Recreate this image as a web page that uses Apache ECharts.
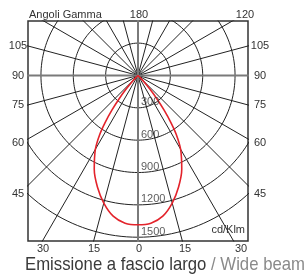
<!DOCTYPE html>
<html>
<head>
<meta charset="utf-8">
<script src="https://cdn.jsdelivr.net/npm/echarts@6/dist/echarts.min.js"></script>
<style>
  html, body { margin: 0; padding: 0; background: #fff; }
  #main { width: 308px; height: 275px; }
</style>
</head>
<body>
<div id="main"></div>
<script>
// gamma angle (deg from nadir) and intensity (cd/klm)
const gammaAngles = [0, 5, 10, 15, 20, 25, 30, 33, 35, 37, 39, 41, 43, 45, 50];
const intensity = [1385, 1375, 1325, 1225, 1100, 960, 790, 650, 530, 400, 280, 170, 80, 20, 0];

// polar grid
const ringValues = [300, 600, 900, 1200, 1500];
const spokeAngles = [0, 15, 30, 45, 60, 75, 90, 105, 120, 135, 150, 165, 180, 195, 210, 225, 240, 255, 270, 285, 300, 315, 330, 345];

// side / bottom tick labels
const sideLabels = ['105', '90', '75', '60', '45'];
const bottomLabels = ['30', '15', '0', '15', '30'];

const titleMain = 'Emissione a fascio largo ';
const titleSub = '/ Wide beam';

const rad = d => d * Math.PI / 180;
const FONT = '"Liberation Sans", Arial, sans-serif';

var chartDom = document.getElementById('main');
var myChart = echarts.init(chartDom, null, { renderer: 'canvas' });

let series = [];

// circles
ringValues.forEach(r => {
    let pts = [];
    for (let a = 0; a <= 360; a += 2) {
        pts.push([r * Math.sin(rad(a)), -r * Math.cos(rad(a))]);
    }
    series.push({
        type: 'line', data: pts, showSymbol: false, silent: true, clip: true,
        lineStyle: { color: '#222', width: 1 }, z: 2
    });
});

// spokes
spokeAngles.forEach(a => {
    const R = 4000;
    const main = a % 90 === 0;
    series.push({
        type: 'line',
        data: [[0, 0], [R * Math.sin(rad(a)), -R * Math.cos(rad(a))]],
        showSymbol: false, silent: true, clip: true,
        lineStyle: { color: main ? '#7a7a7a' : '#222', width: main ? 2 : 1 },
        z: main ? 3 : 2
    });
});

// intensity curve, mirrored both sides
let curve = [];
for (let i = gammaAngles.length - 1; i >= 0; i--) {
    curve.push([-intensity[i] * Math.sin(rad(gammaAngles[i])), -intensity[i] * Math.cos(rad(gammaAngles[i]))]);
}
for (let i = 1; i < gammaAngles.length; i++) {
    curve.push([intensity[i] * Math.sin(rad(gammaAngles[i])), -intensity[i] * Math.cos(rad(gammaAngles[i]))]);
}
series.push({
    type: 'line', data: curve, showSymbol: false, smooth: 0.3, silent: true, clip: true,
    lineStyle: { color: '#e3232b', width: 1.6 }, z: 5
});

// ring values
series.push({
    type: 'scatter',
    data: ringValues.map(r => [0, -r]),
    symbolSize: 0,
    silent: true,
    z: 6,
    label: {
        show: true, position: [3, -11],
        formatter: p => String(-p.value[1]),
        color: '#333', fontSize: 11, fontFamily: FONT
    }
});

// positions of the hand-placed labels
const leftY = [46, 76, 105, 143, 194];
const bottomX = [43, 94, 139, 185, 241];
let graphics = [];
const label = (x, y, t, align) => ({
    type: 'text', x: x, y: y, silent: true, z: 10,
    style: { text: t, fill: '#333', font: '11px ' + FONT, textAlign: align || 'center', textVerticalAlign: 'middle' }
});

sideLabels.forEach((t, i) => {
    graphics.push(label(18, leftY[i], t));
    graphics.push(label(260, leftY[i], t));
});
bottomLabels.forEach((t, i) => graphics.push(label(bottomX[i], 249, t)));
graphics.push(label(29, 15, 'Angoli Gamma', 'left'));
graphics.push(label(139, 15, '180'));
graphics.push(label(245, 15, '120'));
graphics.push(label(245, 230, 'cd/Klm', 'right'));

// title: condensed look by squeezing a regular face to the reference width
const TITLE_FONT = '19px "Liberation Sans", Arial, sans-serif';
const ctx = document.createElement('canvas').getContext('2d');
ctx.font = TITLE_FONT;
const titleW = ctx.measureText(titleMain + titleSub).width;
const squeeze = 280 / titleW;
graphics.push({
    type: 'text', x: 165, y: 265, scaleX: squeeze, silent: true,
    style: {
        text: '{a|' + titleMain + '}{b|' + titleSub + '}',
        textAlign: 'center', textVerticalAlign: 'middle',
        rich: {
            a: { fill: '#3a3a3a', font: TITLE_FONT },
            b: { fill: '#8a8a8a', font: TITLE_FONT }
        }
    }
});

var option = {
    animation: false,
    grid: { left: 28, top: 21, width: 220, height: 220, show: true, borderColor: '#333', borderWidth: 1.5, backgroundColor: 'transparent' },
    xAxis: { type: 'value', min: -1020, max: 1020, show: false },
    yAxis: { type: 'value', min: -1535, max: 505, show: false },
    series: series,
    graphic: graphics
};
option && myChart.setOption(option);
</script>
</body>
</html>
